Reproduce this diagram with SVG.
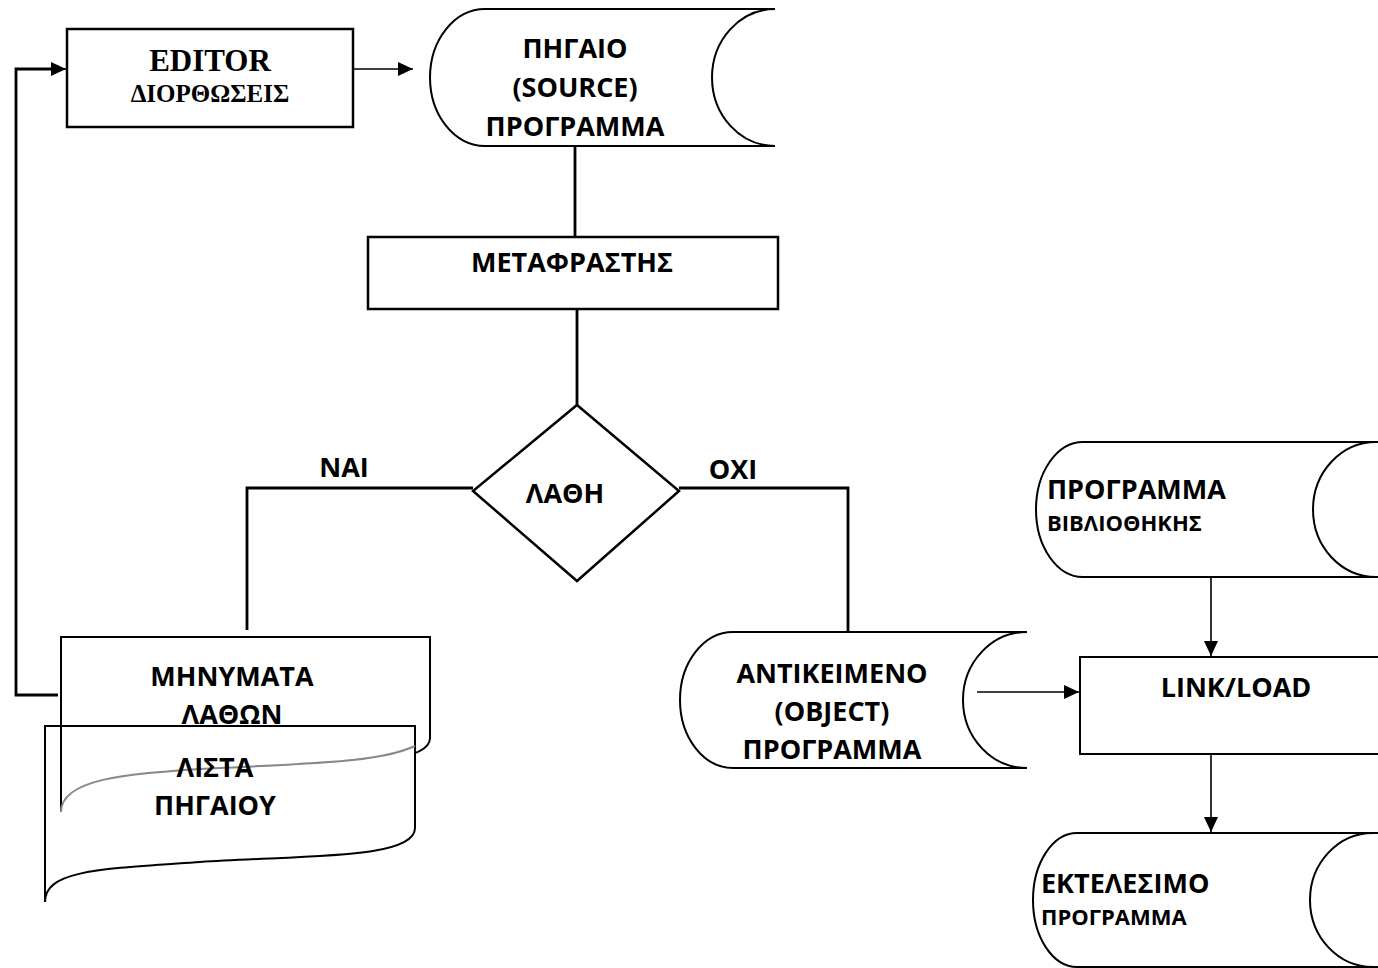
<svg xmlns="http://www.w3.org/2000/svg" width="1378" height="968" viewBox="0 0 1378 968">
<style>
.box{fill:#fff;stroke:#000;stroke-width:2.5}
.shape{fill:#fff;stroke:#000;stroke-width:2}
.ln{fill:none;stroke:#000;stroke-width:2.8}
.thin{fill:none;stroke:#000;stroke-width:1.6}
.t{font-family:"Open Sans","Liberation Sans",sans-serif;font-weight:bold;font-size:27px;fill:#000}
.ts{font-family:"Open Sans","Liberation Sans",sans-serif;font-weight:bold;font-size:22px;fill:#000}
.serif{font-family:"Liberation Serif","Times New Roman",serif;font-weight:bold;fill:#000}
.c{text-anchor:middle}
</style>
<defs>
<marker id="arr" markerUnits="userSpaceOnUse" markerWidth="16" markerHeight="14" refX="15" refY="7" orient="auto">
<path d="M0,0 L15,7 L0,14 Z" fill="#000"/>
</marker>
</defs>
<rect width="1378" height="968" fill="#fff"/>

<g id="editor">
<rect class="box" x="67" y="29" width="286" height="98"/>
<text class="serif c" x="210" y="71" font-size="31">EDITOR</text>
<text class="serif c" x="210" y="102" font-size="25">ΔΙΟΡΘΩΣΕΙΣ</text>
</g>

<g id="source">
<path class="shape" d="M775,9 H485 A55,68.5 0 0 0 485,146 H775"/>
<path d="M775,9 A63,68.5 0 0 0 775,146" fill="none" stroke="#000" stroke-width="2"/>
<text class="t c" x="575" y="58">ΠΗΓΑΙΟ</text>
<text class="t c" x="575" y="97">(SOURCE)</text>
<text class="t c" x="575" y="136">ΠΡΟΓΡΑΜΜΑ</text>
</g>

<g id="metafrastis">
<rect class="box" x="368" y="237" width="410" height="72"/>
<text class="t c" x="572" y="272">ΜΕΤΑΦΡΑΣΤΗΣ</text>
</g>

<g id="lathi">
<polygon class="box" points="577,405 679,491 577,581 473,491"/>
<text class="t c" x="565" y="503">ΛΑΘΗ</text>
</g>

<g id="errors">
<path class="shape" d="M61,812 V637 H430 V738 C430,768 320,763 220,768 C120,773 61,780 61,812 Z"/>
<text class="t c" x="232" y="686">ΜΗΝΥΜΑΤΑ</text>
<text class="t c" x="232" y="724">ΛΑΘΩΝ</text>
</g>

<g id="listing">
<path class="shape" d="M45,902 V726 H415 V828 C415,860 300,855 200,862 C100,869 45,870 45,902 Z"/>
<line x1="61" y1="726" x2="61" y2="812" stroke="#000" stroke-width="2"/>
<path d="M415,746 C380,762 320,763 220,768 C120,773 61,780 61,812" fill="none" stroke="#888" stroke-width="2"/>
<text class="t c" x="215" y="777">ΛΙΣΤΑ</text>
<text class="t c" x="215" y="815">ΠΗΓΑΙΟΥ</text>
</g>

<g id="object">
<path class="shape" d="M1027,632 H733 A53,68 0 0 0 733,768 H1027"/>
<path d="M1027,632 A64,68 0 0 0 1027,768" fill="none" stroke="#000" stroke-width="2"/>
<text class="t c" x="832" y="683">ΑΝΤΙΚΕΙΜΕΝΟ</text>
<text class="t c" x="832" y="721">(OBJECT)</text>
<text class="t c" x="832" y="759">ΠΡΟΓΡΑΜΜΑ</text>
</g>

<g id="library">
<path class="shape" d="M1380,442 H1083 A47,67.5 0 0 0 1083,577 H1380"/>
<path d="M1376,442 A63,67.5 0 0 0 1376,577" fill="none" stroke="#000" stroke-width="2"/>
<text class="t" x="1047" y="499">ΠΡΟΓΡΑΜΜΑ</text>
<text class="ts" x="1047" y="531">ΒΙΒΛΙΟΘΗΚΗΣ</text>
</g>

<g id="linkload">
<rect class="shape" x="1080" y="657" width="305" height="97"/>
<text class="t c" x="1236" y="697">LINK/LOAD</text>
</g>

<g id="executable">
<path class="shape" d="M1380,833 H1077 A44,67 0 0 0 1077,967 H1380"/>
<path d="M1373,833 A63,67 0 0 0 1373,967" fill="none" stroke="#000" stroke-width="2"/>
<text class="t" x="1041" y="893">ΕΚΤΕΛΕΣΙΜΟ</text>
<text class="ts" x="1041" y="925">ΠΡΟΓΡΑΜΜΑ</text>
</g>

<g id="connectors">
<line class="thin" x1="353" y1="69" x2="413" y2="69" marker-end="url(#arr)"/>
<path class="ln" d="M58,695 H16 V69 H52"/>
<line class="thin" x1="50" y1="69" x2="66" y2="69" marker-end="url(#arr)"/>
<line class="ln" x1="575" y1="146" x2="575" y2="237"/>
<line class="ln" x1="577" y1="309" x2="577" y2="405"/>
<path class="ln" d="M473,488 H247 V630"/>
<path class="ln" d="M679,488 H848 V632"/>
<line class="thin" x1="977" y1="692" x2="1079" y2="692" marker-end="url(#arr)"/>
<line class="thin" x1="1211" y1="577" x2="1211" y2="656" marker-end="url(#arr)"/>
<line class="thin" x1="1211" y1="754" x2="1211" y2="832" marker-end="url(#arr)"/>
<text class="t c" x="344" y="477">ΝΑΙ</text>
<text class="t c" x="733" y="479">ΟΧΙ</text>
</g>
</svg>
